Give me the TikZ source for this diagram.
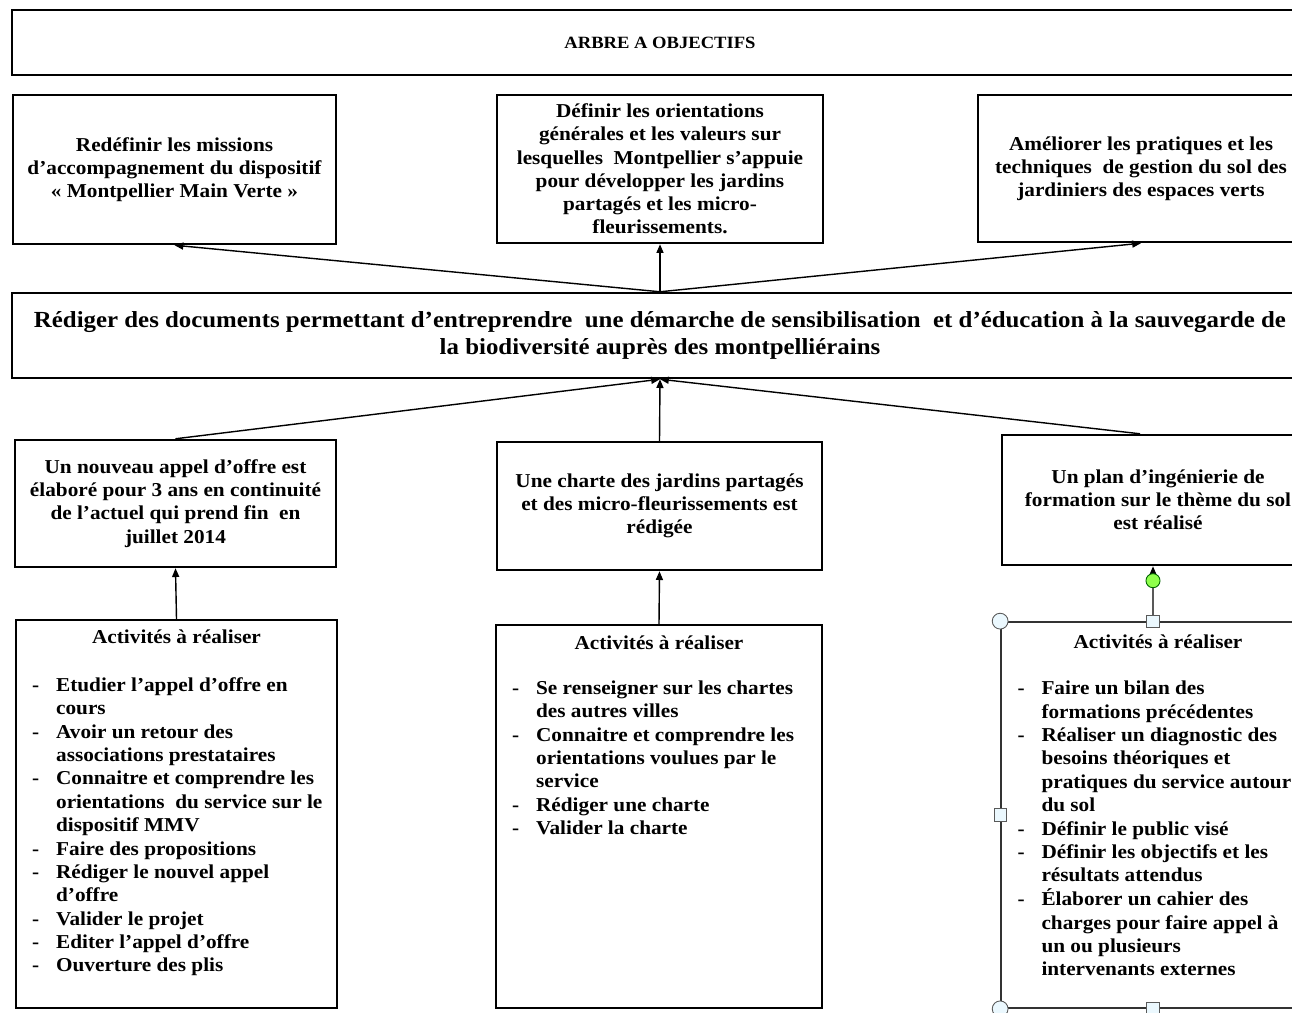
\documentclass[tikz,border=0pt]{standalone}
\usepackage{fontspec}
\setmainfont{Liberation Serif}[FakeStretch=1.08]
\usepackage{tikz}
\usetikzlibrary{arrows.meta,positioning}

\tikzset{
  cadre/.style={draw, line width=1.4pt, align=center, inner sep=0pt,
    font=\fontsize{11.2}{13.2}\selectfont\bfseries},
  fleche/.style={-{Triangle[length=5pt,width=4pt]}, line width=0.8pt},
  titreact/.style={inner sep=0pt, font=\fontsize{11.2}{13.2}\selectfont\bfseries},
  liste/.style={inner sep=0pt, align=left,
    font=\fontsize{11.2}{13.3}\selectfont\bfseries},
  poignee/.style={draw=gray!70!black, fill=cyan!8, line width=0.5pt,
    inner sep=0pt, minimum size=7pt},
  rotation/.style={circle, draw=green!40!black, fill=green!50!lime!70,
    line width=0.5pt, inner sep=0pt, minimum size=8pt}
}

\begin{document}
\begin{tikzpicture}[x=0.02cm,y=-0.02cm]
  \useasboundingbox (0,0) rectangle (1292,1013);
  \fill[white] (0,0) rectangle (1292,1013);
  \clip (0,0) rectangle (1292,1013);

  % titre
  \node[cadre, minimum width=25.92cm, minimum height=1.3cm,
    font=\fontsize{9.8}{11}\selectfont\bfseries] (titre) at (660,42.5)
    {ARBRE A OBJECTIFS};

  % objectifs globaux
  \node[cadre, minimum width=6.46cm, minimum height=2.98cm] (globA) at (174.5,169.5)
    {Redéfinir les missions\\ d'accompagnement du dispositif\\ «~Montpellier Main Verte~»};
  \node[cadre, minimum width=6.52cm, minimum height=2.96cm] (globB) at (660,169)
    {Définir les orientations\\ générales et les valeurs sur\\ lesquelles~ Montpellier s'appuie\\
     pour développer les jardins\\ partagés et les micro-\\ fleurissements.};
  \node[cadre, minimum width=6.52cm, minimum height=2.94cm] (globC) at (1141,168.5)
    {Améliorer les pratiques et les\\ techniques~ de gestion du sol des\\ jardiniers des espaces verts};

  % objectif specifique
  \node[cadre, minimum width=25.92cm, minimum height=1.7cm,
    font=\fontsize{13.1}{15.4}\selectfont\bfseries] (spec) at (660,335.5)
    {Rédiger des documents permettant d'entreprendre~ une démarche de sensibilisation~ et d'éducation à la sauvegarde de\\
     la biodiversité auprès des montpelliérains};

  % resultats
  \node[cadre, minimum width=6.42cm, minimum height=2.54cm] (resA) at (175.5,503.5)
    {Un nouveau appel d'offre est\\ élaboré pour 3 ans en continuité\\ de l'actuel qui prend fin~ en\\ juillet 2014};
  \node[cadre, minimum width=6.5cm, minimum height=2.56cm] (resB) at (659.5,506)
    {Une charte des jardins partagés\\ et des micro-fleurissements est\\ rédigée};
  \node[cadre, minimum width=6.24cm, minimum height=2.6cm] (resC) at (1158,500)
    {Un plan d'ingénierie de\\ formation sur le thème du sol\\ est réalisé};

  % activites
  \node[cadre, minimum width=6.42cm, minimum height=7.76cm] (actA) at (176.5,814) {};
  \node[cadre, minimum width=6.52cm, minimum height=7.66cm] (actB) at (659,816.5) {};
  \node[cadre, draw=black!80, line width=1pt, minimum width=6.28cm, minimum height=7.72cm] (actC) at (1158,815) {};

  \node[titreact, below=0.22cm of actA.north] (titA) {Activités à réaliser};
  \node[titreact, below=0.24cm of actB.north] (titB) {Activités à réaliser};
  \node[titreact, below=0.26cm of actC.north] (titC) {Activités à réaliser};

  \node[liste, below right=1.12cm and 0.34cm of actA.north west] (listA) {%
    \begin{tabular}{@{}p{0.48cm}@{}l@{}}
    - & Etudier l'appel d'offre en\\
      & cours\\
    - & Avoir un retour des\\
      & associations prestataires\\
    - & Connaitre et comprendre les\\
      & orientations~ du service sur le\\
      & dispositif MMV\\
    - & Faire des propositions\\
    - & Rédiger le nouvel appel\\
      & d'offre\\
    - & Valider le projet\\
    - & Editer l'appel d'offre\\
    - & Ouverture des plis
    \end{tabular}};
  \node[liste, below right=1.08cm and 0.34cm of actB.north west] (listB) {%
    \begin{tabular}{@{}p{0.48cm}@{}l@{}}
    - & Se renseigner sur les chartes\\
      & des autres villes\\
    - & Connaitre et comprendre les\\
      & orientations voulues par le\\
      & service\\
    - & Rédiger une charte\\
    - & Valider la charte
    \end{tabular}};
  \node[liste, below right=1.14cm and 0.34cm of actC.north west] (listC) {%
    \begin{tabular}{@{}p{0.48cm}@{}l@{}}
    - & Faire un bilan des\\
      & formations précédentes\\
    - & Réaliser un diagnostic des\\
      & besoins théoriques et\\
      & pratiques du service autour\\
      & du sol\\
    - & Définir le public visé\\
    - & Définir les objectifs et les\\
      & résultats attendus\\
    - & Élaborer un cahier des\\
      & charges pour faire appel à\\
      & un ou plusieurs\\
      & intervenants externes
    \end{tabular}};

  % fleches
  \draw[fleche](spec.north)--(globA.south);
  \draw[fleche](spec.north)--(globB.south);
  \draw[fleche](spec.north)--(globC.south);
  \draw[fleche](resA.north)--(spec.south);
  \draw[fleche](resB.north)--(spec.south);
  \draw[fleche]([xshift=-0.36cm]resC.north)--(spec.south);
  \draw[fleche](actA.north)--(resA.south);
  \draw[fleche](actB.north)--(resB.south);
  \draw[fleche]([xshift=-0.1cm]actC.north)--([xshift=-0.1cm]resC.south);

  % poignees de selection
  \node[rotation, above=0.66cm of actC.north, xshift=-0.1cm] (rot) {};
  \node[poignee, xshift=-0.1cm] (pN) at (actC.north) {};
  \draw[gray!70!black, line width=0.6pt](rot)--(pN);
  \node[poignee, circle, minimum size=9pt] (pNO) at (actC.north west) {};
  \node[poignee, circle, minimum size=9pt] (pSO) at (actC.south west) {};
  \node[poignee] (pO) at (actC.west) {};
  \node[poignee, xshift=-0.1cm] (pS) at (actC.south) {};
\end{tikzpicture}
\end{document}
